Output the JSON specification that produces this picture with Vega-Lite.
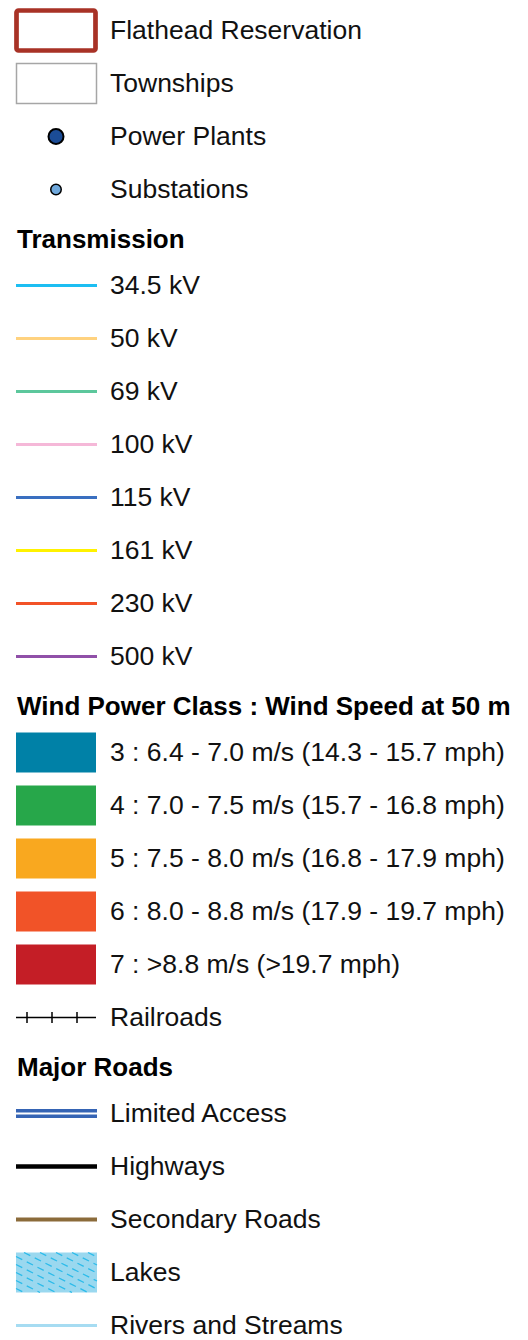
{
  "$schema": "https://vega.github.io/schema/vega-lite/v6.json",
  "padding": {"top": 4, "left": 0, "right": 0, "bottom": 0},
  "background": "white",
  "config": {"view": {"stroke": null}, "font": "Liberation Sans"},
  "data": {"values": [
    {"section": 1, "kind": "reservation", "label": "Flathead Reservation"},
    {"section": 1, "kind": "township", "label": "Townships"},
    {"section": 1, "kind": "plant", "label": "Power Plants"},
    {"section": 1, "kind": "substation", "label": "Substations"},
    {"section": 2, "kind": "line", "label": "34.5 kV"},
    {"section": 2, "kind": "line", "label": "50 kV"},
    {"section": 2, "kind": "line", "label": "69 kV"},
    {"section": 2, "kind": "line", "label": "100 kV"},
    {"section": 2, "kind": "line", "label": "115 kV"},
    {"section": 2, "kind": "line", "label": "161 kV"},
    {"section": 2, "kind": "line", "label": "230 kV"},
    {"section": 2, "kind": "line", "label": "500 kV"},
    {"section": 3, "kind": "swatch", "label": "3 : 6.4 - 7.0 m/s (14.3 - 15.7 mph)"},
    {"section": 3, "kind": "swatch", "label": "4 : 7.0 - 7.5 m/s (15.7 - 16.8 mph)"},
    {"section": 3, "kind": "swatch", "label": "5 : 7.5 - 8.0 m/s (16.8 - 17.9 mph)"},
    {"section": 3, "kind": "swatch", "label": "6 : 8.0 - 8.8 m/s (17.9 - 19.7 mph)"},
    {"section": 3, "kind": "swatch", "label": "7 : >8.8 m/s (>19.7 mph)"},
    {"section": 3, "kind": "rail", "label": "Railroads"},
    {"section": 4, "kind": "limited", "label": "Limited Access"},
    {"section": 4, "kind": "highway", "label": "Highways"},
    {"section": 4, "kind": "secondary", "label": "Secondary Roads"},
    {"section": 4, "kind": "lake", "label": "Lakes"},
    {"section": 4, "kind": "river", "label": "Rivers and Streams"}
  ]},
  "bounds": "flush",
  "spacing": 43,
  "vconcat": [
    {
      "width": 528, "height": 212,
      "transform": [{"filter": "datum.section == 1"}],
      "encoding": {"y": {"field": "label", "type": "nominal", "sort": null, "axis": null, "scale": {"type": "band", "paddingInner": 0.245, "paddingOuter": 0.1225}}},
      "layer": [
        {"transform": [{"filter": "datum.kind == 'reservation'"}],
         "mark": {"type": "rect", "fill": "white", "stroke": "#A83226", "strokeWidth": 4.7, "cornerRadius": 2},
         "encoding": {"x": {"datum": 16.5, "type": "quantitative", "scale": {"domain": [0, 528], "nice": false, "zero": false}, "axis": null}, "x2": {"datum": 95.5}}},
        {"transform": [{"filter": "datum.kind == 'township'"}],
         "mark": {"type": "rect", "fill": "white", "stroke": "#A6A6A6", "strokeWidth": 1.5},
         "encoding": {"x": {"datum": 16.5, "type": "quantitative", "scale": {"domain": [0, 528], "nice": false, "zero": false}, "axis": null}, "x2": {"datum": 96.5}}},
        {"transform": [{"filter": "datum.kind == 'plant'"}],
         "mark": {"type": "point", "shape": "circle", "filled": true, "fill": "#1B4C96", "stroke": "black", "strokeWidth": 2, "size": 225, "opacity": 1},
         "encoding": {"x": {"datum": 56, "type": "quantitative", "scale": {"domain": [0, 528], "nice": false, "zero": false}, "axis": null}}},
        {"transform": [{"filter": "datum.kind == 'substation'"}],
         "mark": {"type": "point", "shape": "circle", "filled": true, "fill": "#6FA8DC", "stroke": "black", "strokeWidth": 1.5, "size": 110, "opacity": 1},
         "encoding": {"x": {"datum": 56, "type": "quantitative", "scale": {"domain": [0, 528], "nice": false, "zero": false}, "axis": null}}},
        {"mark": {"type": "text", "align": "left", "baseline": "middle", "fontSize": 26.5, "color": "#111111"},
         "encoding": {"x": {"datum": 110, "type": "quantitative", "scale": {"domain": [0, 528], "nice": false, "zero": false}, "axis": null}, "text": {"field": "label"}}}
      ]
    },
    {
      "width": 528, "height": 424,
      "title": {"text": "Transmission", "anchor": "start", "frame": "group", "fontSize": 26, "fontWeight": "bold", "font": "Liberation Sans", "color": "#000000", "baseline": "alphabetic", "offset": -15, "dx": 17},
      "transform": [{"filter": "datum.section == 2"}],
      "encoding": {"y": {"field": "label", "type": "nominal", "sort": null, "axis": null, "scale": {"type": "band", "paddingInner": 0.245, "paddingOuter": 0.1225}}},
      "layer": [
        {"mark": {"type": "rule", "strokeWidth": 3},
         "encoding": {"x": {"datum": 16, "type": "quantitative", "scale": {"domain": [0, 528], "nice": false, "zero": false}, "axis": null}, "x2": {"datum": 97},
           "color": {"field": "label", "type": "nominal", "legend": null, "scale": {"domain": ["34.5 kV", "50 kV", "69 kV", "100 kV", "115 kV", "161 kV", "230 kV", "500 kV", "3 : 6.4 - 7.0 m/s (14.3 - 15.7 mph)", "4 : 7.0 - 7.5 m/s (15.7 - 16.8 mph)", "5 : 7.5 - 8.0 m/s (16.8 - 17.9 mph)", "6 : 8.0 - 8.8 m/s (17.9 - 19.7 mph)", "7 : >8.8 m/s (>19.7 mph)"], "range": ["#1CBEF2", "#FFD27F", "#5CC79C", "#F5B8D8", "#3A6FC0", "#FFF200", "#F25228", "#9050A8", "#0081A7", "#27A74A", "#F9A81F", "#F15328", "#C41E26"]}}}},
        {"mark": {"type": "text", "align": "left", "baseline": "middle", "fontSize": 26.5, "color": "#111111"},
         "encoding": {"x": {"datum": 110, "type": "quantitative", "scale": {"domain": [0, 528], "nice": false, "zero": false}, "axis": null}, "text": {"field": "label"}}}
      ]
    },
    {
      "width": 528, "height": 318,
      "title": {"text": "Wind Power Class : Wind Speed at 50 m", "anchor": "start", "frame": "group", "fontSize": 26, "fontWeight": "bold", "font": "Liberation Sans", "color": "#000000", "baseline": "alphabetic", "offset": -15, "dx": 17},
      "transform": [{"filter": "datum.section == 3"}],
      "encoding": {"y": {"field": "label", "type": "nominal", "sort": null, "axis": null, "scale": {"type": "band", "paddingInner": 0.245, "paddingOuter": 0.1225}}},
      "layer": [
        {"transform": [{"filter": "datum.kind == 'swatch'"}],
         "mark": {"type": "rect"},
         "encoding": {"x": {"datum": 16, "type": "quantitative", "scale": {"domain": [0, 528], "nice": false, "zero": false}, "axis": null}, "x2": {"datum": 96},
           "color": {"field": "label", "type": "nominal", "legend": null, "scale": {"domain": ["34.5 kV", "50 kV", "69 kV", "100 kV", "115 kV", "161 kV", "230 kV", "500 kV", "3 : 6.4 - 7.0 m/s (14.3 - 15.7 mph)", "4 : 7.0 - 7.5 m/s (15.7 - 16.8 mph)", "5 : 7.5 - 8.0 m/s (16.8 - 17.9 mph)", "6 : 8.0 - 8.8 m/s (17.9 - 19.7 mph)", "7 : >8.8 m/s (>19.7 mph)"], "range": ["#1CBEF2", "#FFD27F", "#5CC79C", "#F5B8D8", "#3A6FC0", "#FFF200", "#F25228", "#9050A8", "#0081A7", "#27A74A", "#F9A81F", "#F15328", "#C41E26"]}}}},
        {"transform": [{"filter": "datum.kind == 'rail'"}],
         "mark": {"type": "rule", "strokeWidth": 1.5, "color": "black"},
         "encoding": {"x": {"datum": 16, "type": "quantitative", "scale": {"domain": [0, 528], "nice": false, "zero": false}, "axis": null}, "x2": {"datum": 96}}},
        {"transform": [{"filter": "datum.kind == 'rail'"}],
         "mark": {"type": "rule", "strokeWidth": 11, "color": "black", "strokeCap": "butt", "strokeDash": [1.5, 23.5]},
         "encoding": {"x": {"datum": 26.25, "type": "quantitative", "scale": {"domain": [0, 528], "nice": false, "zero": false}, "axis": null}, "x2": {"datum": 78}}},
        {"mark": {"type": "text", "align": "left", "baseline": "middle", "fontSize": 26.5, "color": "#111111"},
         "encoding": {"x": {"datum": 110, "type": "quantitative", "scale": {"domain": [0, 528], "nice": false, "zero": false}, "axis": null}, "text": {"field": "label"}}}
      ]
    },
    {
      "width": 528, "height": 265,
      "title": {"text": "Major Roads", "anchor": "start", "frame": "group", "fontSize": 26, "fontWeight": "bold", "font": "Liberation Sans", "color": "#000000", "baseline": "alphabetic", "offset": -15, "dx": 17},
      "transform": [{"filter": "datum.section == 4"}],
      "encoding": {"y": {"field": "label", "type": "nominal", "sort": null, "axis": null, "scale": {"type": "band", "paddingInner": 0.245, "paddingOuter": 0.1225}}},
      "layer": [
        {"transform": [{"filter": "datum.kind == 'limited'"}],
         "mark": {"type": "rule", "strokeWidth": 9, "color": "#3564B4", "strokeCap": "butt"},
         "encoding": {"x": {"datum": 16, "type": "quantitative", "scale": {"domain": [0, 528], "nice": false, "zero": false}, "axis": null}, "x2": {"datum": 97}}},
        {"transform": [{"filter": "datum.kind == 'limited'"}],
         "mark": {"type": "rule", "strokeWidth": 2, "color": "white", "strokeCap": "butt"},
         "encoding": {"x": {"datum": 16, "type": "quantitative", "scale": {"domain": [0, 528], "nice": false, "zero": false}, "axis": null}, "x2": {"datum": 97}}},
        {"transform": [{"filter": "datum.kind == 'highway'"}],
         "mark": {"type": "rule", "strokeWidth": 4.5, "color": "black", "strokeCap": "butt"},
         "encoding": {"x": {"datum": 16, "type": "quantitative", "scale": {"domain": [0, 528], "nice": false, "zero": false}, "axis": null}, "x2": {"datum": 97}}},
        {"transform": [{"filter": "datum.kind == 'secondary'"}],
         "mark": {"type": "rule", "strokeWidth": 4, "color": "#8B6B3A", "strokeCap": "butt"},
         "encoding": {"x": {"datum": 16, "type": "quantitative", "scale": {"domain": [0, 528], "nice": false, "zero": false}, "axis": null}, "x2": {"datum": 97}}},
        {"transform": [{"filter": "datum.kind == 'lake'"}],
         "mark": {"type": "rect", "fill": "#9AD8EF"},
         "encoding": {"x": {"datum": 16, "type": "quantitative", "scale": {"domain": [0, 528], "nice": false, "zero": false}, "axis": null}, "x2": {"datum": 97}}},
        {"transform": [{"filter": "datum.kind == 'lake'"}],
         "mark": {"type": "rule", "color": "#2BBBEA", "strokeWidth": 1.3, "strokeDash": [7, 5], "strokeCap": "butt", "yOffset": 16, "y2Offset": 20},
         "encoding": {"x": {"datum": 16, "type": "quantitative", "scale": {"domain": [0, 528], "nice": false, "zero": false}, "axis": null}, "x2": {"datum": 24}, "y2": {"field": "label"}}},
        {"transform": [{"filter": "datum.kind == 'lake'"}],
         "mark": {"type": "rule", "color": "#2BBBEA", "strokeWidth": 1.3, "strokeDash": [7, 5], "strokeCap": "butt", "yOffset": 8, "y2Offset": 20},
         "encoding": {"x": {"datum": 16, "type": "quantitative", "scale": {"domain": [0, 528], "nice": false, "zero": false}, "axis": null}, "x2": {"datum": 40}, "y2": {"field": "label"}}},
        {"transform": [{"filter": "datum.kind == 'lake'"}],
         "mark": {"type": "rule", "color": "#2BBBEA", "strokeWidth": 1.3, "strokeDash": [7, 5], "strokeCap": "butt", "yOffset": 0, "y2Offset": 20},
         "encoding": {"x": {"datum": 16, "type": "quantitative", "scale": {"domain": [0, 528], "nice": false, "zero": false}, "axis": null}, "x2": {"datum": 56}, "y2": {"field": "label"}}},
        {"transform": [{"filter": "datum.kind == 'lake'"}],
         "mark": {"type": "rule", "color": "#2BBBEA", "strokeWidth": 1.3, "strokeDash": [7, 5], "strokeCap": "butt", "yOffset": -8, "y2Offset": 20},
         "encoding": {"x": {"datum": 16, "type": "quantitative", "scale": {"domain": [0, 528], "nice": false, "zero": false}, "axis": null}, "x2": {"datum": 72}, "y2": {"field": "label"}}},
        {"transform": [{"filter": "datum.kind == 'lake'"}],
         "mark": {"type": "rule", "color": "#2BBBEA", "strokeWidth": 1.3, "strokeDash": [7, 5], "strokeCap": "butt", "yOffset": -16, "y2Offset": 20},
         "encoding": {"x": {"datum": 16, "type": "quantitative", "scale": {"domain": [0, 528], "nice": false, "zero": false}, "axis": null}, "x2": {"datum": 88}, "y2": {"field": "label"}}},
        {"transform": [{"filter": "datum.kind == 'lake'"}],
         "mark": {"type": "rule", "color": "#2BBBEA", "strokeWidth": 1.3, "strokeDash": [7, 5], "strokeCap": "butt", "yOffset": -20, "y2Offset": 16.5},
         "encoding": {"x": {"datum": 24, "type": "quantitative", "scale": {"domain": [0, 528], "nice": false, "zero": false}, "axis": null}, "x2": {"datum": 97}, "y2": {"field": "label"}}},
        {"transform": [{"filter": "datum.kind == 'lake'"}],
         "mark": {"type": "rule", "color": "#2BBBEA", "strokeWidth": 1.3, "strokeDash": [7, 5], "strokeCap": "butt", "yOffset": -20, "y2Offset": 8.5},
         "encoding": {"x": {"datum": 40, "type": "quantitative", "scale": {"domain": [0, 528], "nice": false, "zero": false}, "axis": null}, "x2": {"datum": 97}, "y2": {"field": "label"}}},
        {"transform": [{"filter": "datum.kind == 'lake'"}],
         "mark": {"type": "rule", "color": "#2BBBEA", "strokeWidth": 1.3, "strokeDash": [7, 5], "strokeCap": "butt", "yOffset": -20, "y2Offset": 0.5},
         "encoding": {"x": {"datum": 56, "type": "quantitative", "scale": {"domain": [0, 528], "nice": false, "zero": false}, "axis": null}, "x2": {"datum": 97}, "y2": {"field": "label"}}},
        {"transform": [{"filter": "datum.kind == 'lake'"}],
         "mark": {"type": "rule", "color": "#2BBBEA", "strokeWidth": 1.3, "strokeDash": [7, 5], "strokeCap": "butt", "yOffset": -20, "y2Offset": -7.5},
         "encoding": {"x": {"datum": 72, "type": "quantitative", "scale": {"domain": [0, 528], "nice": false, "zero": false}, "axis": null}, "x2": {"datum": 97}, "y2": {"field": "label"}}},
        {"transform": [{"filter": "datum.kind == 'lake'"}],
         "mark": {"type": "rule", "color": "#2BBBEA", "strokeWidth": 1.3, "strokeDash": [7, 5], "strokeCap": "butt", "yOffset": -20, "y2Offset": -15.5},
         "encoding": {"x": {"datum": 88, "type": "quantitative", "scale": {"domain": [0, 528], "nice": false, "zero": false}, "axis": null}, "x2": {"datum": 97}, "y2": {"field": "label"}}},
        {"transform": [{"filter": "datum.kind == 'river'"}],
         "mark": {"type": "rule", "strokeWidth": 3, "color": "#A6DCF2"},
         "encoding": {"x": {"datum": 16, "type": "quantitative", "scale": {"domain": [0, 528], "nice": false, "zero": false}, "axis": null}, "x2": {"datum": 97}}},
        {"mark": {"type": "text", "align": "left", "baseline": "middle", "fontSize": 26.5, "color": "#111111"},
         "encoding": {"x": {"datum": 110, "type": "quantitative", "scale": {"domain": [0, 528], "nice": false, "zero": false}, "axis": null}, "text": {"field": "label"}}}
      ]
    }
  ]
}
